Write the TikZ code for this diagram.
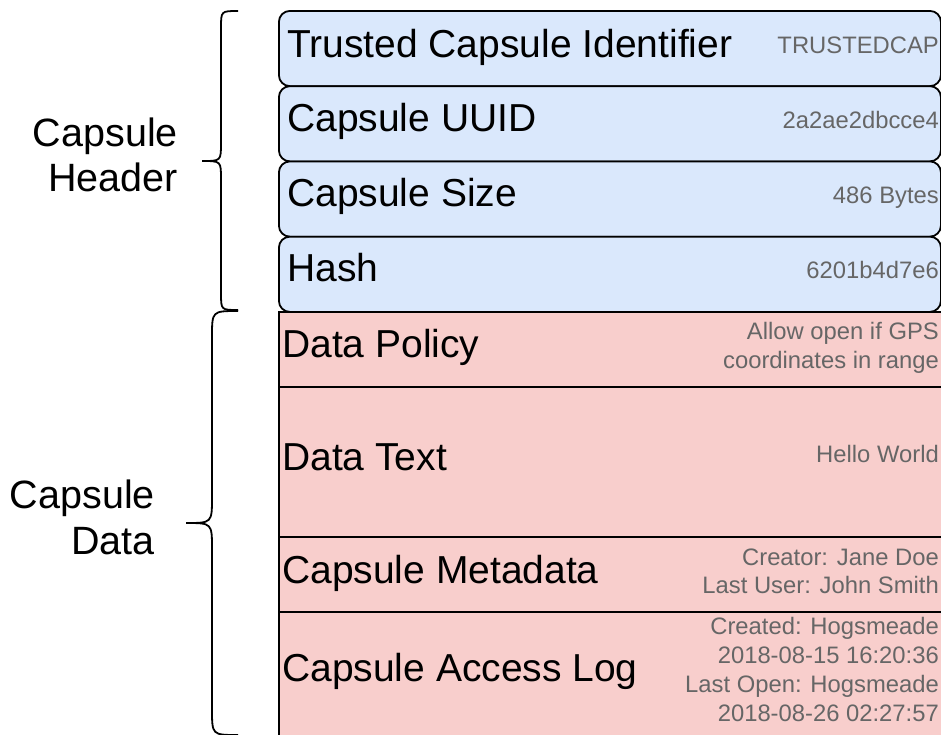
\documentclass[tikz,border=0pt]{standalone}
\usepackage{fontspec}
\setmainfont{Liberation Sans}
\definecolor{headfill}{HTML}{DAE8FC}
\definecolor{datafill}{HTML}{F8CECC}
\definecolor{valgrey}{HTML}{666666}
\begin{document}
\begin{tikzpicture}[x=1pt,y=-1pt,
  field/.style={draw=black,line width=1.8pt,anchor=north west,inner sep=0pt,
                minimum width=662pt},
  headbox/.style={field,fill=headfill,rounded corners=11pt},
  databox/.style={field,fill=datafill,minimum width=680pt},
  fieldname/.style={anchor=base west,inner sep=0pt,font=\fontsize{39}{45}\selectfont},
  fieldval/.style={anchor=base east,inner sep=0pt,text=valgrey,font=\fontsize{23.8}{29}\selectfont},
  grouplabel/.style={anchor=base east,inner sep=0pt,font=\fontsize{39.5}{45}\selectfont},
  bracket/.style={draw=black,line width=1.8pt}]
\useasboundingbox (0,0) rectangle (941,734);

% capsule data section (square boxes, running past the page edge)
\node[databox,minimum height=75pt]  (policy) at (278,311) {};
\node[databox,minimum height=150pt] (text)   at (278,386) {};
\node[databox,minimum height=75pt]  (meta)   at (278,536) {};
\node[databox,minimum height=140pt] (log)    at (278,611) {};

% capsule header section (rounded boxes)
\node[headbox,minimum height=75.25pt] (ident) at (278,10) {};
\node[headbox,minimum height=75.25pt] (uuid)  at (278,85.25) {};
\node[headbox,minimum height=75.25pt] (size)  at (278,160.5) {};
\node[headbox,minimum height=75.25pt] (hash)  at (278,235.75) {};

% field names
\node[fieldname] (identname) at (287,57)  {Trusted Capsule Identifier};
\node[fieldname] (uuidname)  at (287,131) {Capsule UUID};
\node[fieldname] (sizename)  at (287,206) {Capsule Size};
\node[fieldname] (hashname)  at (287,281) {Hash};
\node[fieldname] (policyname) at (282,357) {Data Policy};
\node[fieldname] (textname)   at (282,470) {Data Text};
\node[fieldname] (metaname)   at (282,583) {Capsule Metadata};
\node[fieldname] (logname)    at (282,681) {Capsule Access Log};

% field values
\node[fieldval] (identval) at (939,53)  {TRUSTEDCAP};
\node[fieldval] (uuidval)  at (939,128) {2a2ae2dbcce4};
\node[fieldval] (sizeval)  at (939,203) {486 Bytes};
\node[fieldval] (hashval)  at (939,278) {6201b4d7e6};
\node[fieldval] (policyvala) at (939,339) {Allow open if GPS};
\node[fieldval] (policyvalb) at (939,368) {coordinates in range};
\node[fieldval] (textval)    at (939,462) {Hello World};
\node[fieldval] (metavala)   at (939,565) {Creator: Jane Doe};
\node[fieldval] (metavalb)   at (939,593) {Last User: John Smith};
\node[fieldval] (logvala)    at (939,634) {Created: Hogsmeade};
\node[fieldval] (logvalb)    at (939,663) {2018-08-15 16:20:36};
\node[fieldval] (logvalc)    at (939,692) {Last Open: Hogsmeade};
\node[fieldval] (logvald)    at (939,721) {2018-08-26 02:27:57};

% section braces
\path[bracket] (238,11) .. controls (221,11) .. (221,28) -- (221,143)
  .. controls (221,161) .. (202,161) .. controls (221,161) .. (221,179)
  -- (221,293) .. controls (221,310) .. (238,310);
\path[bracket] (238,311) .. controls (212,311) .. (212,337) -- (212,497)
  .. controls (212,523) .. (186,523) .. controls (212,523) .. (212,549)
  -- (212,709) .. controls (212,735) .. (238,735);

% section labels
\node[grouplabel] (headlabela) at (178,146) {Capsule};
\node[grouplabel] (headlabelb) at (178,191) {Header};
\node[grouplabel] (datalabela) at (155,508) {Capsule};
\node[grouplabel] (datalabelb) at (155,554) {Data};
\end{tikzpicture}
\end{document}
